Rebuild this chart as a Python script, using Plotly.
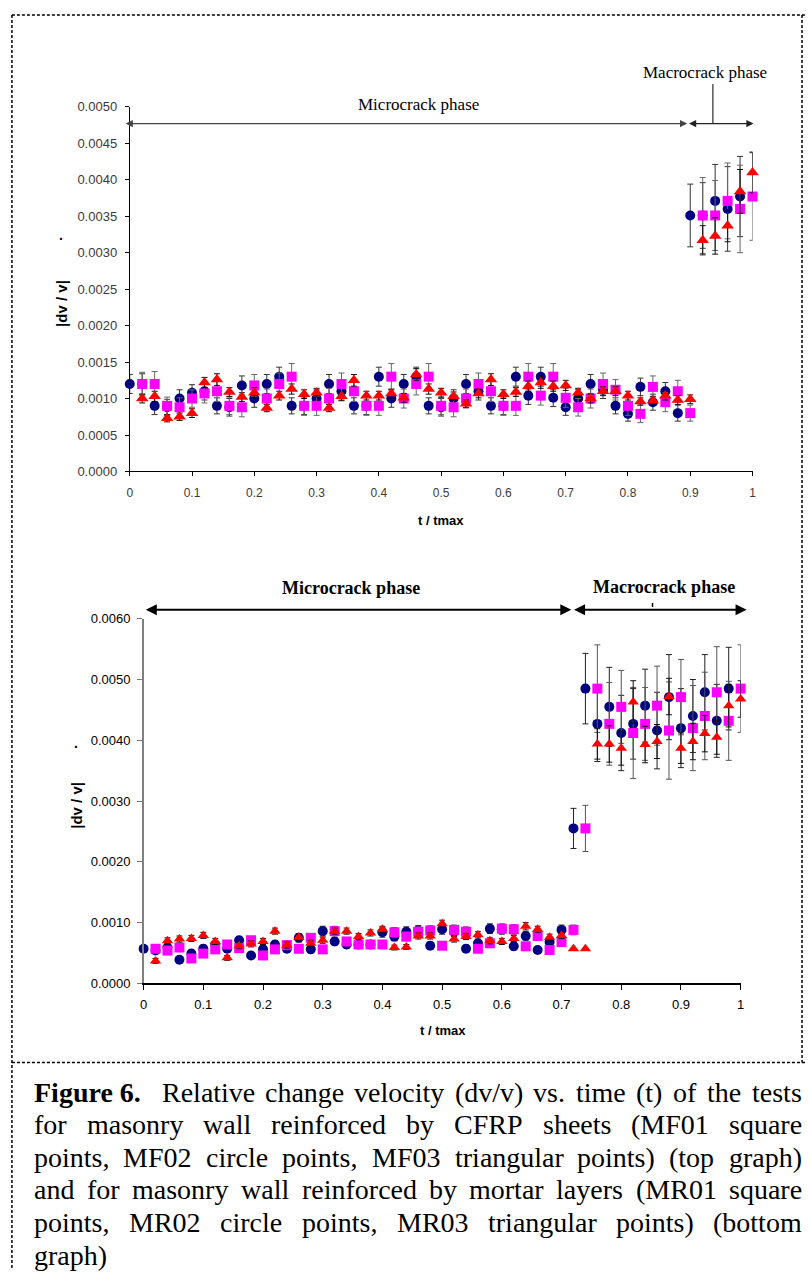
import plotly.graph_objects as go

W, H = 809, 1277

T = [0.00, 0.02, 0.04, 0.06, 0.08, 0.10, 0.12, 0.14, 0.16, 0.18,
     0.20, 0.22, 0.24, 0.26, 0.28, 0.30, 0.32, 0.34, 0.36, 0.38,
     0.40, 0.42, 0.44, 0.46, 0.48, 0.50, 0.52, 0.54, 0.56, 0.58,
     0.60, 0.62, 0.64, 0.66, 0.68, 0.70, 0.72, 0.74, 0.76, 0.78,
     0.80, 0.82, 0.84, 0.86, 0.88, 0.90, 0.92, 0.94, 0.96, 0.98, 1.00]

# ---------------- top graph (CFRP sheets) ----------------
MF02_circle = [0.00120, 0.00120, 0.00090, 0.00088, 0.00100, 0.00108, 0.00110, 0.00090, 0.00088, 0.00118,
               0.00100, 0.00120, 0.00130, 0.00090, 0.00090, 0.00100, 0.00120, 0.00110, 0.00090, 0.00090,
               0.00130, 0.00100, 0.00120, 0.00130, 0.00090, 0.00088, 0.00100, 0.00120, 0.00110, 0.00090,
               0.00090, 0.00130, 0.00104, 0.00130, 0.00101, 0.00088, 0.00100, 0.00120, 0.00112, 0.00090,
               0.00079, 0.00116, 0.00095, 0.00110, 0.00080, 0.00351, 0.00351, 0.00371, 0.00360, 0.00377, None]
MF02_err = [0.00013, 0.00014, 0.00012, 0.00011, 0.00012, 0.00011, 0.00012, 0.00011, 0.00012, 0.00013,
            0.00012, 0.00013, 0.00013, 0.00011, 0.00012, 0.00012, 0.00013, 0.00012, 0.00011, 0.00012,
            0.00013, 0.00012, 0.00013, 0.00013, 0.00011, 0.00012, 0.00012, 0.00013, 0.00012, 0.00011,
            0.00012, 0.00013, 0.00012, 0.00013, 0.00012, 0.00011, 0.00012, 0.00013, 0.00012, 0.00011,
            0.00010, 0.00012, 0.00011, 0.00012, 0.00011, 0.00043, 0.00045, 0.00050, 0.00058, 0.00055, None]

MF01_square = [None, 0.00120, 0.00120, 0.00090, 0.00088, 0.00100, 0.00107, 0.00110, 0.00090, 0.00088,
               0.00118, 0.00100, 0.00120, 0.00130, 0.00090, 0.00090, 0.00100, 0.00120, 0.00110, 0.00090,
               0.00090, 0.00130, 0.00100, 0.00120, 0.00130, 0.00090, 0.00088, 0.00100, 0.00120, 0.00110,
               0.00090, 0.00090, 0.00130, 0.00104, 0.00130, 0.00101, 0.00088, 0.00100, 0.00120, 0.00112,
               0.00090, 0.00079, 0.00116, 0.00095, 0.00110, 0.00080, 0.00351, 0.00351, 0.00371, 0.00360, 0.00377]
MF01_err = [None, 0.00016, 0.00017, 0.00012, 0.00013, 0.00012, 0.00013, 0.00014, 0.00012, 0.00013,
            0.00015, 0.00013, 0.00015, 0.00018, 0.00013, 0.00013, 0.00014, 0.00015, 0.00014, 0.00013,
            0.00013, 0.00018, 0.00013, 0.00015, 0.00018, 0.00012, 0.00013, 0.00013, 0.00015, 0.00014,
            0.00013, 0.00013, 0.00018, 0.00013, 0.00018, 0.00013, 0.00012, 0.00013, 0.00015, 0.00014,
            0.00013, 0.00012, 0.00015, 0.00013, 0.00015, 0.00011, 0.00052, 0.00048, 0.00052, 0.00060, 0.00060]

MF03_triangle = [None, 0.00100, 0.00103, 0.00073, 0.00075, 0.00080, 0.00122, 0.00126, 0.00109, 0.00102,
                 0.00108, 0.00087, 0.00104, 0.00113, 0.00106, 0.00108, 0.00087, 0.00103, 0.00125, 0.00104,
                 0.00104, 0.00107, 0.00101, 0.00133, 0.00113, 0.00108, 0.00103, 0.00093, 0.00107, 0.00126,
                 0.00106, 0.00109, 0.00117, 0.00122, 0.00117, 0.00118, 0.00108, 0.00100, 0.00110, 0.00110,
                 0.00104, 0.00096, 0.00097, 0.00104, 0.00098, 0.00099, 0.00317, 0.00323, 0.00337, 0.00384, 0.00410]
MF03_err = [None, 0.00006, 0.00007, 0.00005, 0.00005, 0.00006, 0.00007, 0.00008, 0.00006, 0.00006,
            0.00007, 0.00005, 0.00006, 0.00007, 0.00006, 0.00006, 0.00005, 0.00006, 0.00008, 0.00006,
            0.00006, 0.00006, 0.00006, 0.00008, 0.00007, 0.00006, 0.00006, 0.00005, 0.00006, 0.00008,
            0.00006, 0.00006, 0.00007, 0.00008, 0.00007, 0.00007, 0.00006, 0.00006, 0.00006, 0.00006,
            0.00006, 0.00005, 0.00006, 0.00006, 0.00006, 0.00006, 0.00020, 0.00025, 0.00022, 0.00030, 0.00028]

# ---------------- bottom graph (mortar layers) ----------------
MR02_circle = [0.00057, 0.00054, 0.00059, 0.00039, 0.00049, 0.00057, 0.00064, 0.00057, 0.00071, 0.00046,
               0.00056, 0.00064, 0.00057, 0.00075, 0.00056, 0.00086, 0.00069, 0.00064, 0.00064, 0.00064,
               0.00084, 0.00077, 0.00085, 0.00087, 0.00062, 0.00089, 0.00085, 0.00057, 0.00066, 0.00090,
               0.00089, 0.00061, 0.00078, 0.00055, 0.00068, 0.00088, 0.00255, 0.00485, 0.00427, 0.00455,
               0.00412, 0.00427, 0.00457, 0.00416, 0.00471, 0.00420, 0.00440, 0.00479, 0.00432, 0.00485, None]
MR02_err = [0.00004, 0.00005, 0.00006, 0.00005, 0.00005, 0.00006, 0.00006, 0.00005, 0.00006, 0.00005,
            0.00005, 0.00006, 0.00005, 0.00007, 0.00005, 0.00008, 0.00006, 0.00006, 0.00006, 0.00006,
            0.00008, 0.00007, 0.00008, 0.00008, 0.00006, 0.00008, 0.00008, 0.00006, 0.00006, 0.00008,
            0.00008, 0.00006, 0.00007, 0.00005, 0.00006, 0.00008, 0.00033, 0.00058, 0.00062, 0.00065,
            0.00062, 0.00058, 0.00060, 0.00063, 0.00070, 0.00065, 0.00060, 0.00062, 0.00060, 0.00068, None]

MR01_square = [None, 0.00057, 0.00054, 0.00059, 0.00041, 0.00049, 0.00056, 0.00064, 0.00058, 0.00071,
               0.00046, 0.00056, 0.00063, 0.00057, 0.00075, 0.00056, 0.00086, 0.00069, 0.00064, 0.00064,
               0.00064, 0.00084, 0.00077, 0.00085, 0.00087, 0.00062, 0.00088, 0.00085, 0.00057, 0.00066,
               0.00090, 0.00089, 0.00061, 0.00078, 0.00055, 0.00068, 0.00088, 0.00255, 0.00485, 0.00427,
               0.00455, 0.00412, 0.00427, 0.00457, 0.00416, 0.00471, 0.00420, 0.00440, 0.00479, 0.00432, 0.00485]
MR01_err = [None, 0.00005, 0.00005, 0.00006, 0.00005, 0.00005, 0.00006, 0.00006, 0.00005, 0.00006,
            0.00005, 0.00005, 0.00006, 0.00005, 0.00007, 0.00005, 0.00008, 0.00006, 0.00006, 0.00006,
            0.00006, 0.00008, 0.00007, 0.00008, 0.00008, 0.00006, 0.00008, 0.00008, 0.00006, 0.00006,
            0.00008, 0.00008, 0.00006, 0.00007, 0.00005, 0.00006, 0.00008, 0.00038, 0.00072, 0.00068,
            0.00060, 0.00075, 0.00060, 0.00065, 0.00080, 0.00062, 0.00070, 0.00072, 0.00075, 0.00065, 0.00072]

MR03_triangle = [None, 0.00037, 0.00070, 0.00073, 0.00074, 0.00079, 0.00069, 0.00042, 0.00062, 0.00065,
                 0.00069, 0.00086, 0.00063, 0.00076, 0.00066, 0.00071, 0.00086, 0.00086, 0.00077, 0.00083,
                 0.00089, 0.00059, 0.00060, 0.00078, 0.00078, 0.00098, 0.00073, 0.00077, 0.00080, 0.00070,
                 0.00069, 0.00074, 0.00094, 0.00089, 0.00076, 0.00079, 0.00057, 0.00057, 0.00394, 0.00394,
                 0.00387, 0.00463, 0.00393, 0.00398, 0.00472, 0.00387, 0.00398, 0.00411, 0.00405, 0.00457, 0.00468]
MR03_err = [None, 0.00004, 0.00005, 0.00005, 0.00005, 0.00005, 0.00005, 0.00004, 0.00005, 0.00005,
            0.00005, 0.00005, 0.00005, 0.00005, 0.00005, 0.00005, 0.00005, 0.00005, 0.00005, 0.00005,
            0.00005, 0.00004, 0.00004, 0.00005, 0.00005, 0.00006, 0.00005, 0.00005, 0.00005, 0.00005,
            0.00005, 0.00005, 0.00006, 0.00005, 0.00005, 0.00005, 0.00000, 0.00000, 0.00025, 0.00030,
            0.00028, 0.00035, 0.00030, 0.00028, 0.00030, 0.00025, 0.00030, 0.00030, 0.00028, 0.00035, 0.00030]

TOP_YTICKS = [0.0, 0.0005, 0.0010, 0.0015, 0.0020, 0.0025, 0.0030, 0.0035, 0.0040, 0.0045, 0.0050]
BOT_YTICKS = [0.0, 0.0010, 0.0020, 0.0030, 0.0040, 0.0050, 0.0060]
XTICKS = [0, 0.1, 0.2, 0.3, 0.4, 0.5, 0.6, 0.7, 0.8, 0.9, 1]
XTICK_TEXT = ["0", "0.1", "0.2", "0.3", "0.4", "0.5", "0.6", "0.7", "0.8", "0.9", "1"]

NAVY, MAGENTA, RED = "#000080", "#FF00FF", "#FF0000"


def px(x):
    return x / W


def py(y):
    return 1 - y / H


fig = go.Figure()


def add_series(xa, ya, y, err, symbol, color, size, ecolor):
    fig.add_trace(go.Scatter(
        x=T, y=y, mode="markers", xaxis=xa, yaxis=ya, cliponaxis=False,
        marker=dict(symbol=symbol, color=color, size=size, line=dict(width=0)),
        error_y=dict(type="data", array=err, visible=True, color=ecolor, thickness=1, width=3),
        showlegend=False, hoverinfo="skip"))


add_series("x", "y", MF02_circle, MF02_err, "circle", NAVY, 10, "#333333")
add_series("x", "y", MF01_square, MF01_err, "square", MAGENTA, 10, "#666666")
add_series("x", "y", MF03_triangle, MF03_err, "triangle-up", RED, 11, "#111111")
add_series("x2", "y2", MR02_circle, MR02_err, "circle", NAVY, 10, "#222222")
add_series("x2", "y2", MR01_square, MR01_err, "square", MAGENTA, 10, "#555555")
add_series("x2", "y2", MR03_triangle, MR03_err, "triangle-up", RED, 10, "#111111")

fig.update_layout(
    width=W, height=H, margin=dict(l=0, r=0, t=0, b=0),
    paper_bgcolor="white", plot_bgcolor="white", showlegend=False,
    xaxis=dict(domain=[px(127), px(756)], range=[0, 1], anchor="y",
               tickvals=XTICKS, ticktext=XTICK_TEXT, ticks="outside", ticklen=4, tickcolor="black",
               showline=True, linecolor="black", linewidth=1, showgrid=False, zeroline=False,
               tickfont=dict(family="Liberation Sans", size=12, color="#3a3a3a"), ticklabelstandoff=6),
    yaxis=dict(domain=[py(470), py(101)], range=[0, 0.005], anchor="x",
               tickvals=TOP_YTICKS, tickformat=".4f", ticks="outside", ticklen=4, tickcolor="black",
               showline=True, linecolor="black", linewidth=1, showgrid=False, zeroline=False,
               tickfont=dict(family="Liberation Sans", size=13, color="#3a3a3a"), ticklabelstandoff=5),
    xaxis2=dict(domain=[px(141), px(744)], range=[0, 1], anchor="y2",
                tickvals=XTICKS, ticktext=XTICK_TEXT, ticks="outside", ticklen=5, tickcolor="black",
                showline=True, linecolor="black", linewidth=1.5, showgrid=False, zeroline=False,
                tickfont=dict(family="Liberation Sans", size=13, color="black"), ticklabelstandoff=4),
    yaxis2=dict(domain=[py(988), py(619)], range=[0, 0.006], anchor="x2",
                tickvals=BOT_YTICKS, tickformat=".4f", ticks="outside", ticklen=5, tickcolor="#777777",
                showline=True, linecolor="#808080", linewidth=1.5, showgrid=False, zeroline=False,
                tickfont=dict(family="Liberation Sans", size=13, color="black"), ticklabelstandoff=4),
)

ann = []
shapes = []


def text(x, y, s, size, family="Liberation Sans", bold=False, angle=0, color="black",
         xanchor="center"):
    if bold:
        s = "<b>" + s + "</b>"
    ann.append(dict(x=px(x), y=py(y), xref="paper", yref="paper", text=s, showarrow=False,
                    xanchor=xanchor, yanchor="middle", textangle=angle,
                    font=dict(family=family, size=size, color=color)))


def darrow(x0, x1, y, color, width):
    ann.append(dict(x=px(x1), y=py(y), xref="paper", yref="paper", text="", showarrow=True,
                    ax=x0 - x1, ay=0, axref="pixel", ayref="pixel",
                    arrowhead=2, startarrowhead=2, arrowside="end+start",
                    arrowsize=1.1, startarrowsize=1.1, arrowwidth=width, arrowcolor=color,
                    standoff=0, startstandoff=0))


def line(x0, y0, x1, y1, color="black", width=1, dash="solid"):
    shapes.append(dict(type="line", xref="paper", yref="paper",
                       x0=px(x0), y0=py(y0), x1=px(x1), y1=py(y1),
                       line=dict(color=color, width=width, dash=dash)))


# axis titles
text(58, 300, "|dv / v|", 15, bold=True, angle=-90)
text(58, 231, ".", 14, bold=True)
text(441, 520, "t / tmax", 13, bold=True)
text(73, 808, "|dv / v|", 15, bold=True, angle=-90)
text(73, 745, ".", 14, bold=True)
text(443, 1036, "t / tmax", 13, bold=True)

# phase annotations - top
text(419, 99, "Microcrack phase", 17, family="Liberation Serif")
text(708, 66, "Macrocrack phase", 17, family="Liberation Serif")
darrow(127, 690, 118, "#444444", 1.3)
darrow(691, 757, 118, "#222222", 1.3)
line(716, 78, 716, 118, "black", 1)

# phase annotations - bottom
text(350, 588, "Microcrack phase", 18, family="Liberation Serif", bold=True)
text(667, 587, "Macrocrack phase", 18, family="Liberation Serif", bold=True)
darrow(146, 573, 610, "black", 2)
darrow(576, 750, 610, "black", 2)
line(655, 603, 655, 607, "black", 1.5)

# dashed frame
DASH = "3px,2px"
line(8, 8, 809, 8, "black", 1.5, DASH)
line(8, 8, 8, 1277, "black", 1.5, DASH)
line(806, 8, 806, 1068, "black", 1.5, DASH)
line(8, 1068, 809, 1068, "black", 1.5, DASH)

# caption with justified lines (Times metrics)
TIMES = {' ': 250, '(': 333, ')': 333, ',': 250, '.': 250, '/': 278, '-': 333,
         'A': 722, 'B': 667, 'C': 667, 'D': 722, 'E': 611, 'F': 556, 'G': 722, 'H': 722, 'I': 333,
         'J': 389, 'K': 722, 'L': 611, 'M': 889, 'N': 722, 'O': 722, 'P': 556, 'Q': 722, 'R': 667,
         'S': 556, 'T': 611, 'U': 722, 'V': 722, 'W': 944, 'X': 722, 'Y': 722, 'Z': 611,
         'a': 444, 'b': 500, 'c': 444, 'd': 500, 'e': 444, 'f': 333, 'g': 500, 'h': 500, 'i': 278,
         'j': 278, 'k': 500, 'l': 278, 'm': 778, 'n': 500, 'o': 500, 'p': 500, 'q': 500, 'r': 333,
         's': 389, 't': 278, 'u': 500, 'v': 500, 'w': 722, 'x': 500, 'y': 500, 'z': 444}
TIMES_BOLD = {'F': 611, 'i': 278, 'g': 500, 'u': 556, 'r': 444, 'e': 444, ' ': 250, '.': 250}

CAPTION = [
    "Relative change velocity (dv/v) vs. time (t) of the tests",
    "for masonry wall reinforced by CFRP sheets (MF01 square",
    "points, MF02 circle points, MF03 triangular points) (top graph)",
    "and for masonry wall reinforced by mortar layers (MR01 square",
    "points, MR02 circle points, MR03 triangular points) (bottom",
    "graph)",
]
CAP_SIZE = 28
CAP_LEFT, CAP_RIGHT = 28, 803
CAP_Y0, CAP_DY = 1098, 33


def wwidth(word, bold=False):
    tab = TIMES_BOLD if bold else TIMES
    return sum(tab.get(c, TIMES.get(c, 500)) for c in word) * CAP_SIZE / 1000.0


for i, ln in enumerate(CAPTION):
    y = CAP_Y0 + i * CAP_DY
    words = [(w, False) for w in ln.split(" ")]
    if i == 0:
        words = [("Figure 6.", True)] + words
    if i == len(CAPTION) - 1:
        x = CAP_LEFT
        for w, b in words:
            text(x, y, w, CAP_SIZE, family="Liberation Serif", bold=b, xanchor="left")
            x += wwidth(w, b) + wwidth(" ")
        continue
    widths = [wwidth(w, b) for w, b in words]
    weights = [2 if (i == 0 and k == 0) else 1 for k in range(len(words) - 1)]
    gap = (CAP_RIGHT - CAP_LEFT - sum(widths)) / sum(weights)
    x = CAP_LEFT
    for k, (w, b) in enumerate(words):
        text(x, y, w, CAP_SIZE, family="Liberation Serif", bold=b, xanchor="left")
        if k < len(weights):
            x += widths[k] + gap * weights[k]

fig.update_layout(annotations=ann, shapes=shapes)
fig.write_html(
    "out.html",
    config={"displayModeBar": False, "staticPlot": True},
    post_script="document.documentElement.style.margin='0';document.body.style.margin='0';"
                "document.body.style.padding='0';document.body.style.overflow='hidden';",
)
